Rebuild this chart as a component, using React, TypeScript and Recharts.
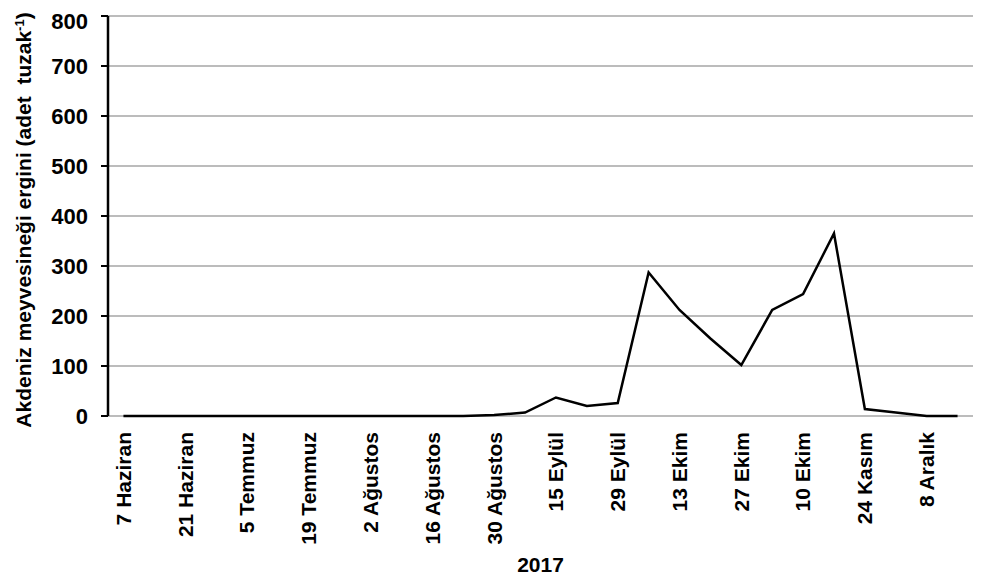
import { LineChart, Line, XAxis, YAxis, CartesianGrid, Label } from 'recharts';

// weekly trap counts, 2017 season
const dates = [
  '7 Haziran', '14 Haziran', '21 Haziran', '28 Haziran',
  '5 Temmuz', '12 Temmuz', '19 Temmuz', '26 Temmuz',
  '2 Ağustos', '9 Ağustos', '16 Ağustos', '23 Ağustos',
  '30 Ağustos', '8 Eylül', '15 Eylül', '22 Eylül',
  '29 Eylül', '6 Ekim', '13 Ekim', '20 Ekim',
  '27 Ekim', '3 Kasım', '10 Ekim', '17 Kasım',
  '24 Kasım', '1 Aralık', '8 Aralık', '15 Aralık',
];

const counts = [
  0, 0, 0, 0,
  0, 0, 0, 0,
  0, 0, 0, 0,
  2, 7, 37, 20,
  26, 287, 212, 155,
  102, 212, 244, 365,
  14, 7, 0, 0,
];

const yTicks = [0, 100, 200, 300, 400, 500, 600, 700, 800];

const data = dates.map((date, i) => ({ date, pos: i + 0.5, count: counts[i] }));
const boundaryTicks = [...dates.map((_, i) => i), dates.length];
const labelTicks = data.filter((_, i) => i % 2 === 0).map((d) => d.pos);

const FONT = '"Liberation Sans", Arial, sans-serif';

function DateTick({ x, y, payload }: any) {
  const label = dates[Math.floor(payload.value)];
  return (
    <text
      x={x}
      y={y}
      dy="0.35em"
      transform={`rotate(-90, ${x}, ${y})`}
      textAnchor="end"
      fontFamily={FONT}
      fontWeight="bold"
      fontSize={21}
      fill="#000"
    >
      {label}
    </text>
  );
}

function YTitle({ viewBox }: any) {
  const x = viewBox.x + 23;
  const y = viewBox.y + viewBox.height / 2 + 4;
  return (
    <text
      x={x}
      y={y}
      transform={`rotate(-90, ${x}, ${y})`}
      textAnchor="middle"
      fontFamily={FONT}
      fontWeight="bold"
      fontSize={21}
      fill="#000"
    >
      Akdeniz meyvesineği ergini (adet{'\u00a0\u00a0'}tuzak
      <tspan fontSize={13} dy={-7}>-1</tspan>
      <tspan dy={7}>)</tspan>
    </text>
  );
}

export default function App() {
  return (
    <LineChart
      width={965}
      height={567}
      data={data}
      margin={{ top: 8, right: 0, left: 0, bottom: 0 }}
    >
      <CartesianGrid
        horizontal
        vertical={false}
        xAxisId="dates"
        stroke="#a6a6a6"
        strokeWidth={1.5}
      />
      <XAxis
        xAxisId="grid"
        type="number"
        domain={[0, dates.length]}
        ticks={boundaryTicks}
        height={0}
        tick={false}
        tickSize={7}
        axisLine={{ stroke: '#000', strokeWidth: 2.5 }}
        tickLine={{ stroke: '#000', strokeWidth: 2 }}
      />
      <XAxis
        xAxisId="dates"
        dataKey="pos"
        type="number"
        domain={[0, dates.length]}
        ticks={labelTicks}
        interval={0}
        height={159}
        tickSize={0}
        tickMargin={16}
        axisLine={false}
        tickLine={false}
        tick={<DateTick />}
      >
        <Label
          value="2017"
          position="insideBottom"
          offset={3}
          fontFamily={FONT}
          fontWeight="bold"
          fontSize={21}
          fill="#000"
        />
      </XAxis>
      <YAxis
        domain={[0, 800]}
        ticks={yTicks}
        width={100}
        tickSize={7}
        tickMargin={13}
        axisLine={{ stroke: '#000', strokeWidth: 2.5 }}
        tickLine={{ stroke: '#000', strokeWidth: 2 }}
        tick={{ fontFamily: FONT, fontWeight: 'bold', fontSize: 22, fill: '#000' }}
      >
        <Label content={<YTitle />} />
      </YAxis>
      <Line
        xAxisId="dates"
        dataKey="count"
        type="linear"
        stroke="#000"
        strokeWidth={2.5}
        dot={false}
        isAnimationActive={false}
      />
    </LineChart>
  );
}
